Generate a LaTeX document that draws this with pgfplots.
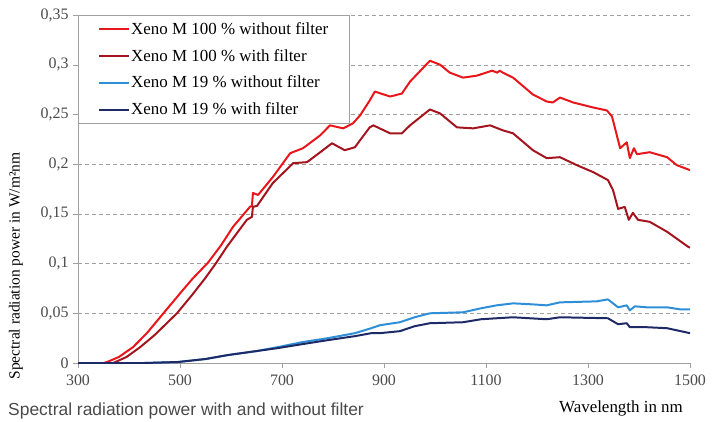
\documentclass[border=0pt]{standalone}
\usepackage{fontspec}
\setmainfont{Liberation Serif}
\setsansfont{Liberation Sans}
\usepackage{pgfplots}
\pgfplotsset{compat=1.18}

\definecolor{redA}{HTML}{E8161B}
\definecolor{redB}{HTML}{A3141E}
\definecolor{blueA}{HTML}{2E8FD8}
\definecolor{blueB}{HTML}{1E2A66}
\definecolor{gridgray}{HTML}{A0A0A0}
\definecolor{txtgray}{HTML}{4A4A4A}

\begin{document}
\begin{tikzpicture}[x=1bp,y=1bp]
\useasboundingbox (0,0) rectangle (717,421);
\begin{axis}[
    at={(78bp,58bp)}, anchor=origin,
    scale only axis,
    width=612bp, height=348bp,
    xmin=300, xmax=1500,
    ymin=0, ymax=0.35,
    axis lines*=left,
    axis line style={gridgray, -},
    xtick={300,500,700,900,1100,1300,1500},
    ytick={0,0.05,0.1,0.15,0.2,0.25,0.3,0.35},
    yticklabels={0,{0,05},{0,1},{0,15},{0,2},{0,25},{0,3},{0,35}},
    tick align=outside,
    major tick length=5bp,
    tick style={gridgray},
    ymajorgrids,
    grid style={gridgray, dashed, dash pattern=on 4bp off 3bp},
    /pgf/number format/assume math mode=true,
    /pgf/number format/1000 sep={},
    tick label style={font=\fontsize{16}{18}\selectfont, text=txtgray},
    xticklabel style={yshift=-3bp},
    yticklabel style={xshift=-1bp},
    legend style={at={(0,1)}, anchor=north west, draw=gridgray, fill=white,
        font=\fontsize{17}{19}\selectfont, inner xsep=20bp, inner ysep=6bp,
        row sep=11.5bp, cells={anchor=west},
        nodes={inner sep=1bp}},
    legend image code/.code={\draw[#1] (0bp,0bp) -- (30bp,0bp);},
    every axis plot/.append style={line width=2pt, line join=round},
]
\addplot[redA] coordinates {
(300,0) (350,0) (357,0.001) (380,0.006) (408,0.016) (435,0.030) (461,0.046)
(500,0.070) (525,0.085) (555,0.101) (580,0.118) (604,0.137) (637,0.157)
(641,0.158) (643,0.171) (653,0.169) (682,0.187) (716,0.211) (741,0.216)
(775,0.229) (794,0.239) (820,0.236) (839,0.241) (853,0.249) (872,0.264)
(882,0.273) (912,0.268) (935,0.271) (951,0.283) (990,0.304) (1010,0.300)
(1029,0.292) (1055,0.287) (1082,0.289) (1112,0.294) (1122,0.292) (1127,0.294)
(1133,0.292) (1153,0.287) (1192,0.270) (1219,0.263) (1231,0.262) (1245,0.267)
(1271,0.262) (1310,0.257) (1337,0.254) (1347,0.248) (1363,0.216) (1376,0.222)
(1382,0.206) (1390,0.216) (1396,0.210) (1421,0.212) (1455,0.207) (1474,0.199)
(1500,0.194)
};
\addlegendentry{Xeno M 100 \% without filter}
\addplot[redB] coordinates {
(300,0) (369,0) (395,0.006) (422,0.016) (450,0.028) (474,0.040) (494,0.050)
(523,0.068) (549,0.085) (570,0.100) (592,0.117) (631,0.144) (641,0.147)
(643,0.157) (651,0.158) (682,0.181) (722,0.201) (749,0.202) (775,0.212)
(798,0.221) (823,0.214) (843,0.217) (853,0.224) (872,0.237) (879,0.239)
(912,0.231) (935,0.231) (951,0.239) (990,0.255) (1010,0.251) (1043,0.237)
(1075,0.236) (1108,0.239) (1133,0.234) (1153,0.231) (1192,0.214) (1219,0.206)
(1245,0.207) (1278,0.199) (1310,0.192) (1339,0.184) (1349,0.174) (1359,0.155)
(1372,0.157) (1380,0.144) (1388,0.151) (1398,0.144) (1421,0.142) (1455,0.132)
(1496,0.117) (1500,0.116)
};
\addlegendentry{Xeno M 100 \% with filter}
\addplot[blueA] coordinates {
(300,0) (430,0) (496,0.001) (550,0.004) (594,0.008) (650,0.012) (692,0.016)
(740,0.021) (790,0.025) (843,0.030) (875,0.035) (892,0.038) (931,0.041)
(960,0.046) (990,0.050) (1055,0.051) (1090,0.055) (1121,0.058) (1153,0.060)
(1190,0.059) (1219,0.058) (1245,0.061) (1317,0.062) (1339,0.064) (1359,0.056)
(1376,0.058) (1382,0.053) (1392,0.057) (1415,0.056) (1455,0.056) (1480,0.054)
(1500,0.054)
};
\addlegendentry{Xeno M 19 \% without filter}
\addplot[blueB] coordinates {
(300,0) (430,0) (496,0.001) (550,0.004) (594,0.008) (650,0.012) (692,0.015)
(740,0.019) (790,0.023) (843,0.027) (875,0.030) (892,0.030) (931,0.032)
(960,0.037) (990,0.040) (1055,0.041) (1090,0.044) (1121,0.045) (1153,0.046)
(1219,0.044) (1245,0.046) (1339,0.045) (1359,0.039) (1376,0.040) (1382,0.036)
(1415,0.036) (1455,0.035) (1500,0.030)
};
\addlegendentry{Xeno M 19 \% with filter}
\end{axis}
\node[rotate=90, font=\fontsize{15.5}{17}\selectfont] at (16,155) {Spectral radiation power in W/m²nm};
\node[font=\fontsize{17}{19}\selectfont] at (621,13) {Wavelength in nm};
\node[anchor=west, inner sep=0pt, font=\sffamily\fontsize{17.5}{20}\selectfont, text=txtgray] at (8,10) {Spectral radiation power with and without filter};
\end{tikzpicture}
\end{document}
